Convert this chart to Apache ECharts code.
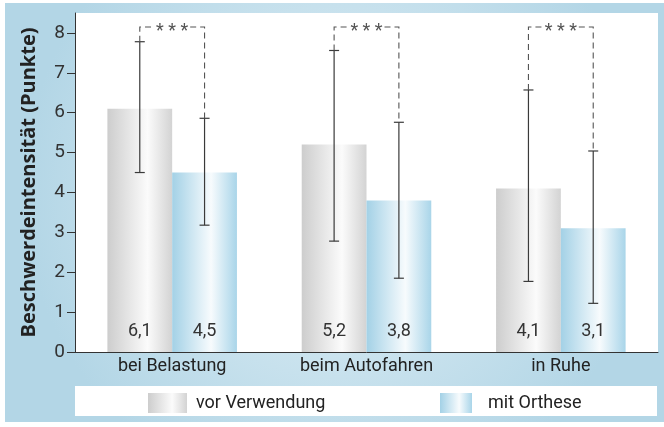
<!DOCTYPE html>
<html><head><meta charset="utf-8">
<script src="https://cdn.jsdelivr.net/npm/echarts@6/dist/echarts.min.js"></script>
<style>html,body{margin:0;padding:0;background:#fff}#c{width:664px;height:427px}</style>
</head><body><div id="c"></div>
<script>
const categories = ['bei Belastung', 'beim Autofahren', 'in Ruhe'];
const seriesNames = ['vor Verwendung', 'mit Orthese'];
const vorValues = [6.1, 5.2, 4.1];
const mitValues = [4.5, 3.8, 3.1];
const vorLow = [4.5, 2.78, 1.77];
const vorHigh = [7.78, 7.56, 6.57];
const mitLow = [3.18, 1.85, 1.22];
const mitHigh = [5.86, 5.76, 5.04];
const bracketLevel = [8.15, 8.15, 8.15];
const sigText = ['* * *', '* * *', '* * *'];
const yTicks = [0, 1, 2, 3, 4, 5, 6, 7, 8];

const FONT = 'Roboto';
const chart = echarts.init(document.getElementById('c'));

const grayGrad = new echarts.graphic.LinearGradient(0, 0, 1, 0, [
  {offset: 0, color: '#cdcdcd'}, {offset: 0.62, color: '#fbfbfb'}, {offset: 1, color: '#d3d3d3'}]);
const blueGrad = new echarts.graphic.LinearGradient(0, 0, 1, 0, [
  {offset: 0, color: '#a3d1e6'}, {offset: 0.6, color: '#f7fbfd'}, {offset: 1, color: '#a9d5e9'}]);

function renderErr(params, api) {
  const i = api.value(0);
  const catW = api.size([1, 0])[0];
  const off = catW / 6;
  const c = api.coord([i, 0]);
  const xg = c[0] - off, xb = c[0] + off;
  const cap = 5;
  const st = {stroke: '#3a3a3a', lineWidth: 1.2};
  const yv = v => api.coord([i, v])[1];
  const ch = [];
  [[xg, vorLow[i], vorHigh[i]], [xb, mitLow[i], mitHigh[i]]].forEach(([x, lo, hi]) => {
    const y1 = yv(lo), y2 = yv(hi);
    ch.push({type: 'line', shape: {x1: x, y1: y1, x2: x, y2: y2}, style: st});
    ch.push({type: 'line', shape: {x1: x - cap, y1: y1, x2: x + cap, y2: y1}, style: st});
    ch.push({type: 'line', shape: {x1: x - cap, y1: y2, x2: x + cap, y2: y2}, style: st});
  });
  const yb = yv(bracketLevel[i]);
  const ds = {stroke: '#555', lineWidth: 1.1, lineDash: [6, 4], fill: null};
  ch.push({type: 'polyline', shape: {points: [[xg, yv(vorHigh[i])], [xg, yb], [c[0] - 18, yb]]}, style: ds});
  ch.push({type: 'polyline', shape: {points: [[c[0] + 18, yb], [xb, yb], [xb, yv(mitHigh[i])]]}, style: ds});
  ch.push({type: 'text', x: c[0], y: yb + 5, style: {text: sigText[i], fill: '#555', font: '18px ' + FONT, align: 'center', verticalAlign: 'middle'}});
  return {type: 'group', children: ch};
}

const labelFmt = p => String(p.value).replace('.', ',');

chart.setOption({
  animation: false,
  textStyle: {fontFamily: FONT},
  graphic: [
    {type: 'rect', z: -10, shape: {x: 5, y: 3, width: 664, height: 419},
      style: {fill: new echarts.graphic.RadialGradient(0.5, 0.45, 0.75, [
        {offset: 0, color: '#e4f1f7'}, {offset: 1, color: '#b3d6e6'}])}},
    {type: 'rect', z: -9, shape: {x: 75, y: 13, width: 583, height: 339}, style: {fill: '#ffffff'}},
    {type: 'rect', z: -9, shape: {x: 75, y: 386, width: 582, height: 30}, style: {fill: '#ffffff'}}
  ],
  grid: {left: 75, right: 6, top: 13, bottom: 75, containLabel: false},
  legend: [
    {data: [seriesNames[0]], left: 148, top: 393, padding: 0, itemWidth: 39, itemHeight: 20, icon: 'rect',
      textStyle: {fontSize: 18, color: '#222', fontFamily: FONT, padding: [0, 0, 0, 4]}},
    {data: [seriesNames[1]], left: 440, top: 393, padding: 0, itemWidth: 32, itemHeight: 20, icon: 'rect',
      textStyle: {fontSize: 18, color: '#222', fontFamily: FONT, padding: [0, 0, 0, 11]}}
  ],
  xAxis: {
    type: 'category', data: categories,
    axisLine: {lineStyle: {color: '#333', width: 1}},
    axisTick: {length: 5, lineStyle: {color: '#333'}},
    axisLabel: {fontSize: 18, color: '#222', margin: 5, fontFamily: FONT}
  },
  yAxis: {
    type: 'value', min: 0, max: 8.5, interval: 1,
    name: 'Beschwerdeintensität (Punkte)', nameLocation: 'middle', nameGap: 36,
    nameTextStyle: {fontSize: 20, fontWeight: 'bold', color: '#222', fontFamily: 'Open Sans'},
    axisLine: {show: true, lineStyle: {color: '#333', width: 1}},
    axisTick: {show: true, length: 8, customValues: yTicks, lineStyle: {color: '#333'}},
    axisLabel: {fontSize: 19, color: '#333', margin: 10, customValues: yTicks, fontFamily: FONT},
    splitLine: {show: false}
  },
  series: [
    {name: seriesNames[0], type: 'bar', data: vorValues, barWidth: '33.33%', barGap: '0%',
      itemStyle: {color: grayGrad},
      label: {show: true, position: 'insideBottom', distance: 12, fontSize: 18, color: '#333', formatter: labelFmt}},
    {name: seriesNames[1], type: 'bar', data: mitValues, barWidth: '33.33%', barGap: '0%',
      itemStyle: {color: blueGrad},
      label: {show: true, position: 'insideBottom', distance: 12, fontSize: 18, color: '#333', formatter: labelFmt}},
    {type: 'custom', renderItem: renderErr, data: categories.map((_, i) => [i]), z: 5, silent: true}
  ]
});
</script></body></html>
